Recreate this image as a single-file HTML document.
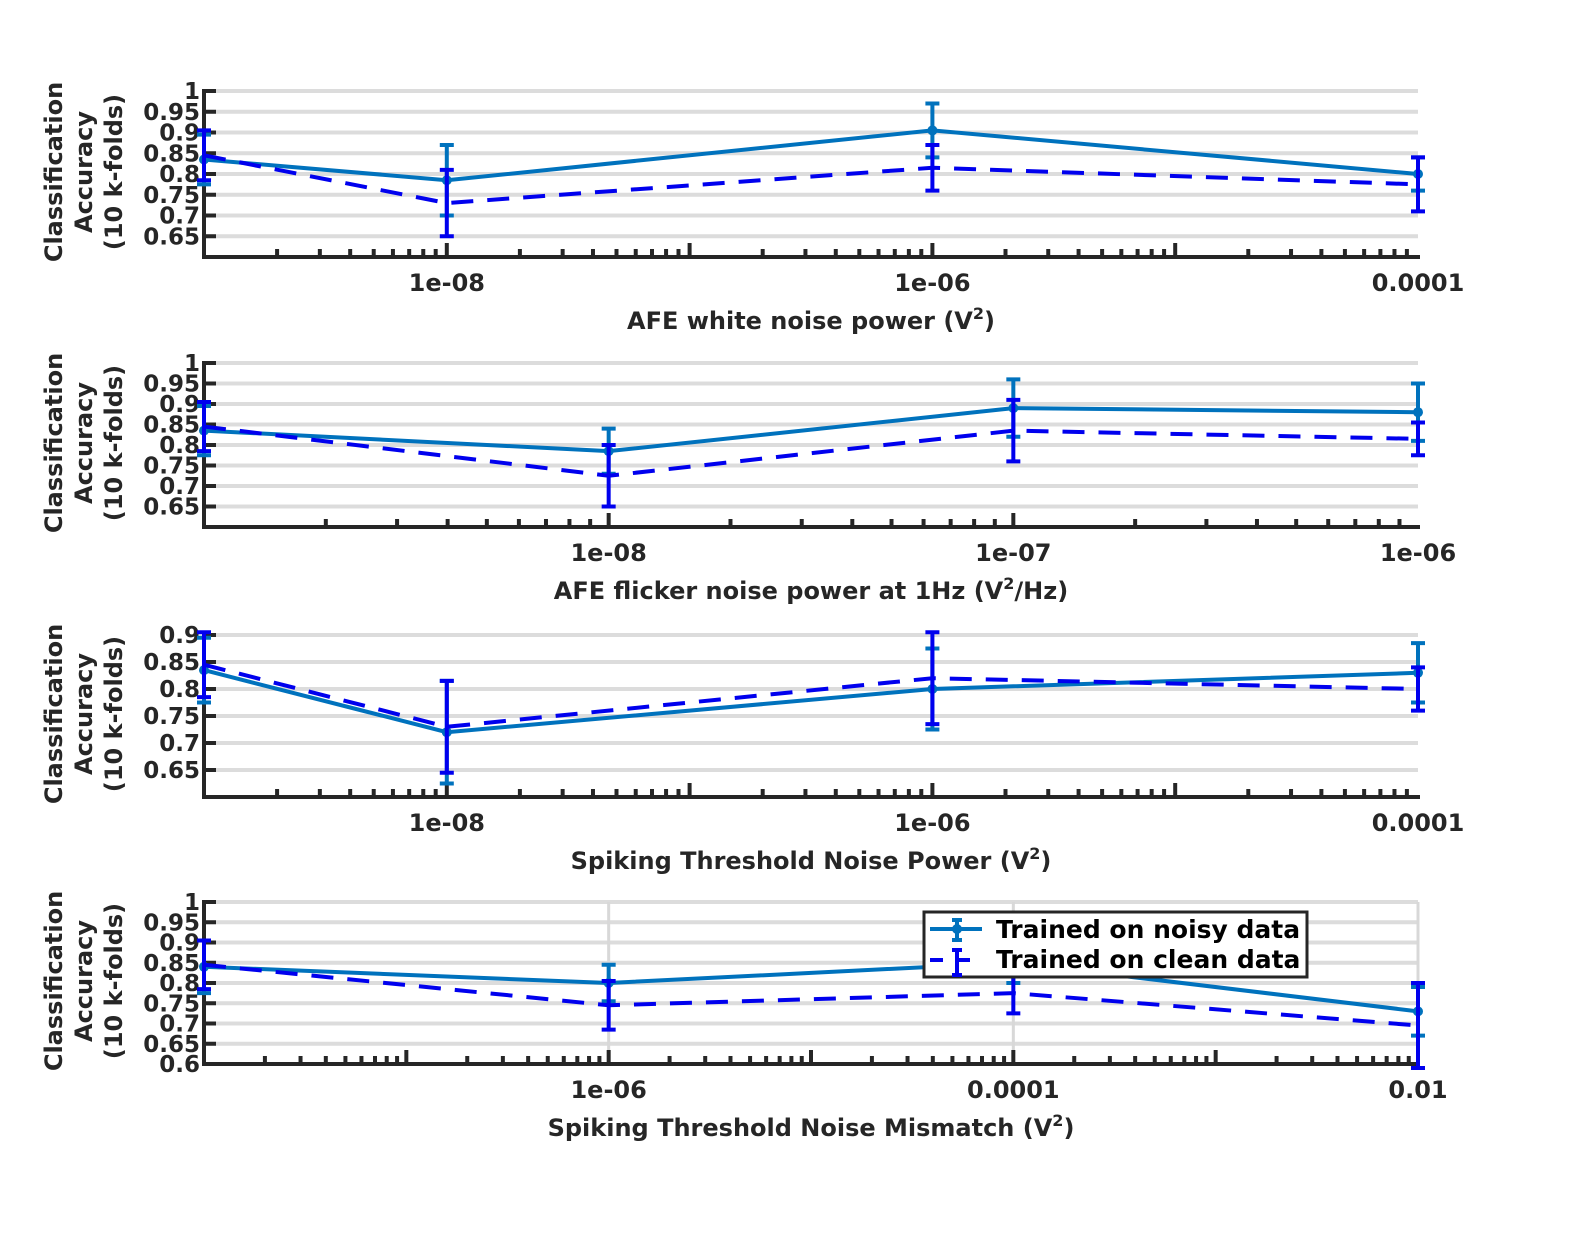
<!DOCTYPE html>
<html><head><meta charset="utf-8"><style>
body{margin:0;background:#fff;}
svg text{font-family:"DejaVu Sans","Liberation Sans",sans-serif;font-weight:bold;fill:#262626;}
</style></head><body>
<svg id="c" width="1578" height="1239" xmlns="http://www.w3.org/2000/svg"></svg>
<script>
// Panel data (log10 x values)
const p1X=[-9,-8,-6,-4];
const p1Noisy=[0.835,0.785,0.905,0.80];
const p1NoisyErr=[0.06,0.085,0.065,0.04];
const p1Clean=[0.845,0.73,0.815,0.775];
const p1CleanErr=[0.06,0.08,0.055,0.065];
const p2X=[-9,-8,-7,-6];
const p2Noisy=[0.835,0.785,0.89,0.88];
const p2NoisyErr=[0.06,0.055,0.07,0.07];
const p2Clean=[0.845,0.725,0.835,0.815];
const p2CleanErr=[0.06,0.075,0.075,0.04];
const p3X=[-9,-8,-6,-4];
const p3Noisy=[0.835,0.72,0.80,0.83];
const p3NoisyErr=[0.06,0.095,0.075,0.055];
const p3Clean=[0.845,0.73,0.82,0.80];
const p3CleanErr=[0.06,0.085,0.085,0.04];
const p4X=[-8,-6,-4,-2];
const p4Noisy=[0.84,0.80,0.85,0.73];
const p4NoisyErr=[0.065,0.045,0.05,0.06];
const p4Clean=[0.845,0.745,0.775,0.695];
const p4CleanErr=[0.06,0.06,0.05,0.105];
const p1Labels=["1e-08","1e-06","0.0001"];
const p2Labels=["1e-08","1e-07","1e-06"];
const p4Labels=["1e-06","0.0001","0.01"];

const NS="http://www.w3.org/2000/svg";
const svg=document.getElementById('c');
function mk(t,a,p){const e=document.createElementNS(NS,t);for(const k in a)e.setAttribute(k,a[k]);(p||svg).appendChild(e);return e;}
const L=204,R=1418;
const panels=[
 {top:91,bot:257,ymin:.6,ymax:1,yt:[.65,.7,.75,.8,.85,.9,.95,1],xmin:-9,xmax:-4,lab:[-8,-6,-4],labs:p1Labels,x:p1X,n:p1Noisy,ne:p1NoisyErr,c:p1Clean,ce:p1CleanErr,title:'AFE white noise power (V',suf:')',vg:false},
 {top:363,bot:527,ymin:.6,ymax:1,yt:[.65,.7,.75,.8,.85,.9,.95,1],xmin:-9,xmax:-6,lab:[-8,-7,-6],labs:p2Labels,x:p2X,n:p2Noisy,ne:p2NoisyErr,c:p2Clean,ce:p2CleanErr,title:'AFE flicker noise power at 1Hz (V',suf:'/Hz)',vg:false},
 {top:635,bot:797,ymin:.6,ymax:.9,yt:[.65,.7,.75,.8,.85,.9],xmin:-9,xmax:-4,lab:[-8,-6,-4],labs:p1Labels,x:p3X,n:p3Noisy,ne:p3NoisyErr,c:p3Clean,ce:p3CleanErr,title:'Spiking Threshold Noise Power (V',suf:')',vg:false},
 {top:902,bot:1064,ymin:.6,ymax:1,yt:[.6,.65,.7,.75,.8,.85,.9,.95,1],xmin:-8,xmax:-2,lab:[-6,-4,-2],labs:p4Labels,x:p4X,n:p4Noisy,ne:p4NoisyErr,c:p4Clean,ce:p4CleanErr,title:'Spiking Threshold Noise Mismatch (V',suf:')',vg:true}
];
panels.forEach((p,i)=>{
 const g=mk('g',{});
 
 
 const xs=v=>L+(v-p.xmin)/(p.xmax-p.xmin)*(R-L);
 const ys=v=>p.bot-(v-p.ymin)/(p.ymax-p.ymin)*(p.bot-p.top);
 p.yt.forEach(t=>{
  const y=ys(t);
  if(t>p.ymin+1e-9){const gl=mk('line',{x1:L,x2:R,y1:y,y2:y,stroke:'#dcdcdc','stroke-width':4},g);}
  mk('line',{x1:L,x2:L+12,y1:y,y2:y,stroke:'#262626','stroke-width':4},g);
  const tx=mk('text',{x:L-4,y:y+8,'text-anchor':'end','font-size':23},g);
  tx.textContent=String(t);
  
  
 });
 if(p.vg){for(let d=Math.ceil(p.xmin)+1;d<=p.xmax;d++){if(d%2===0){mk('line',{x1:xs(d),x2:xs(d),y1:p.top,y2:p.bot,stroke:'#d8d8d8','stroke-width':3},g);}}}
 for(let d=Math.floor(p.xmin);d<p.xmax;d++){
  for(let m=2;m<=9;m++){const x=xs(d+Math.log10(m));mk('line',{x1:x,x2:x,y1:p.bot,y2:p.bot-8,stroke:'#262626','stroke-width':4},g);}
  if(d>p.xmin){mk('line',{x1:xs(d),x2:xs(d),y1:p.bot,y2:p.bot-14,stroke:'#262626','stroke-width':4},g);}
 }
 p.lab.forEach((d,k)=>{
  const tx=mk('text',{x:xs(d),y:p.bot+34,'text-anchor':'middle','font-size':24},g);
  tx.textContent=p.labs[k];
  
  
 });
 mk('line',{x1:L,x2:L,y1:p.top-2,y2:p.bot+2,stroke:'#262626','stroke-width':4},g);
 mk('line',{x1:L-2,x2:R+2,y1:p.bot,y2:p.bot,stroke:'#262626','stroke-width':4},g);
 const t=mk('text',{x:811,y:p.bot+72,'text-anchor':'middle','font-size':24},g);
 t.innerHTML=p.title+'<tspan dy="-10" font-size="16">2</tspan><tspan dy="10">'+p.suf+'</tspan>';
 
 
 const yc=(p.top+p.bot)/2-2;
 ['Classification','Accuracy','(10 k-folds)'].forEach((s,k)=>{
  const tx=mk('text',{x:0,y:0,'text-anchor':'middle','font-size':24,transform:`translate(${62+k*30},${yc}) rotate(-90)`},g);
  tx.textContent=s;
  
  
 });
 function series(vals,errs,col,dash,name){
  const sg=mk('g',{},g);
  
  
  const pts=p.x.map((xv,k)=>xs(xv)+','+ys(vals[k])).join(' ');
  mk('polyline',{points:pts,fill:'none',stroke:col,'stroke-width':4,'stroke-dasharray':dash},sg);
  p.x.map((xv,k)=>{
   const x=xs(xv),y1=ys(vals[k]-errs[k]),y2=ys(vals[k]+errs[k]);
   const e=mk('path',{d:`M${x},${y1}V${y2}M${x-7},${y1}H${x+7}M${x-7},${y2}H${x+7}`,stroke:col,'stroke-width':4,fill:'none'},sg);
   
   
   if(!dash){mk('circle',{cx:x,cy:ys(vals[k]),r:5,fill:col},sg);}
  });
 }
 series(p.n,p.ne,'#0072bd','','series-noisy');
 series(p.c,p.ce,'#0000ee','22,14','series-clean');
});
// legend
const lg=mk('g',{});


mk('rect',{x:924,y:912,width:383,height:65,fill:'#fff',stroke:'#262626','stroke-width':3},lg);
mk('line',{x1:930,x2:982,y1:929,y2:929,stroke:'#0072bd','stroke-width':4},lg);
mk('path',{d:'M957,920V940M952,920H962M952,940H962',stroke:'#0072bd','stroke-width':4},lg);
mk('circle',{cx:957,cy:929,r:5,fill:'#0072bd'},lg);
mk('line',{x1:930,x2:982,y1:960,y2:960,stroke:'#0000ee','stroke-width':4,'stroke-dasharray':'13,14'},lg);
mk('path',{d:'M957,950V975M952,950H962M952,975H962',stroke:'#0000ee','stroke-width':4},lg);
const l1=mk('text',{x:996,y:938,'font-size':25,style:'fill:#000'},lg);l1.textContent='Trained on noisy data';


const l2=mk('text',{x:996,y:968,'font-size':25,style:'fill:#000'},lg);l2.textContent='Trained on clean data';


</script>
</body></html>
